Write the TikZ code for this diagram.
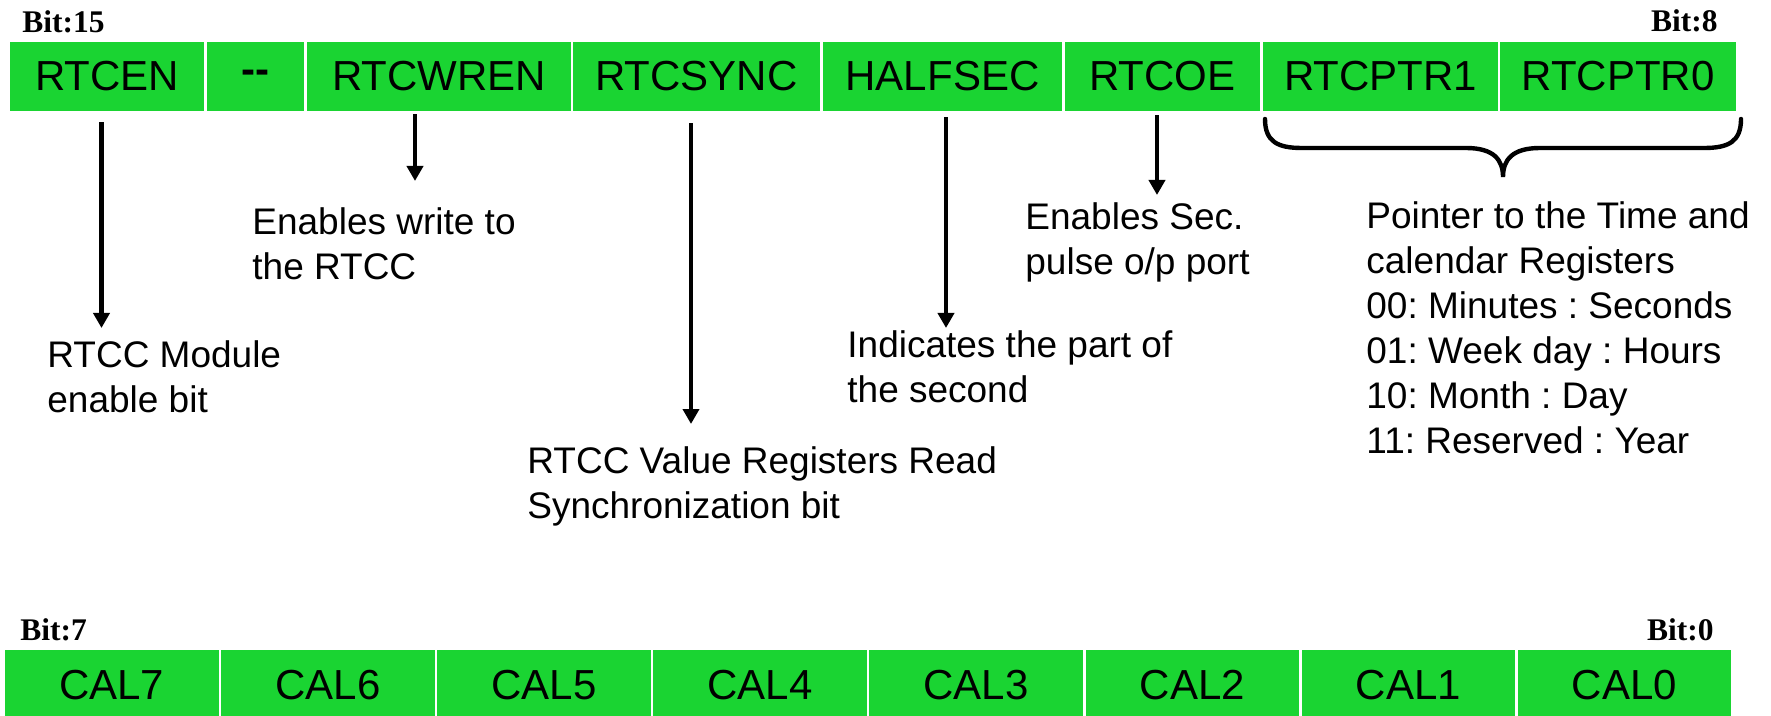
\documentclass[tikz,border=0pt]{standalone}
\usepackage{fontspec}
\setmainfont{Liberation Sans}
\newfontfamily\bitfont{Liberation Serif}
\usetikzlibrary{arrows.meta,calc}
\definecolor{regreen}{RGB}{26,212,50}
\tikzset{
  cell/.style={fill=regreen, inner sep=0pt, minimum height=34.5pt,
    font=\fontsize{21}{25}\selectfont, text=black},
  bitlbl/.style={font=\bitfont\bfseries\fontsize{15.75}{18}\selectfont, inner sep=0pt},
  % multi-line descriptions are placed by the baseline of their last line
  desc/.style={font=\fontsize{18.5}{22.5}\selectfont\frenchspacing, align=left, inner sep=0pt, anchor=base west},
  pointer/.style={-{Triangle[width=8pt,length=7.5pt]}, line width=2.2pt},
  bracepath/.style={line width=2.2pt, line cap=round},
}
\begin{document}
\begin{tikzpicture}[x=0.5pt,y=-0.5pt]
\useasboundingbox (0,0) rectangle (1771,716);
\clip (0,0) rectangle (1771,716);

% ---- upper byte: bits 15..8 ----
\node[bitlbl, anchor=base west] (b15) at (22,33) {Bit:15};
\node[bitlbl, anchor=base east] (b8) at (1718,32) {Bit:8};

\node[cell, minimum width=97pt]    (rtcen)   at (107,76.5)    {RTCEN};
\node[cell, minimum width=48.5pt]  (unused)  at (255.5,76.5)  {\bfseries -{}-};
\node[cell, minimum width=132pt]   (rtcwren) at (439,76.5)    {RTCWREN};
\node[cell, minimum width=123.5pt] (rtcsync) at (696.5,76.5)  {RTCSYNC};
\node[cell, minimum width=119.5pt] (halfsec) at (942.5,76.5)  {HALFSEC};
\node[cell, minimum width=97.5pt]  (rtcoe)   at (1162.5,76.5) {RTCOE};
\node[cell, minimum width=117.5pt] (ptr1)    at (1380.5,76.5) {RTCPTR1};
\node[cell, minimum width=118pt]   (ptr0)    at (1618,76.5)   {RTCPTR0};

% ---- bit descriptions ----
\node[desc] (d1) at (47,413)   {RTCC Module\\enable bit};
\node[desc] (d2) at (252,280)  {Enables write to\\the RTCC};
\node[desc] (d3) at (527,518)  {RTCC Value Registers Read\\Synchronization bit};
\node[desc] (d4) at (847,402)  {Indicates the part of\\the second};
\node[desc] (d5) at (1025,275) {Enables Sec.\\pulse o/p port};
\node[desc] (d6) at (1366,453) {Pointer to the Time and\\calendar Registers\\00: Minutes : Seconds\\01: Week day : Hours\\10: Month : Day\\11: Reserved : Year};

% ---- arrows from the bits to their descriptions ----
\coordinate (t1) at (101.5,328);
\coordinate (t2) at (415,181);
\coordinate (t3) at (691,424);
\coordinate (t4) at (946,328);
\coordinate (t5) at (1157,195);
\draw[pointer] ($(rtcen.south -| t1)+(0,11)$)   -- (t1);
\draw[pointer] ($(rtcwren.south -| t2)+(0,3)$)  -- (t2);
\draw[pointer] ($(rtcsync.south -| t3)+(0,12)$) -- (t3);
\draw[pointer] ($(halfsec.south -| t4)+(0,6)$)  -- (t4);
\draw[pointer] ($(rtcoe.south -| t5)+(0,4)$)    -- (t5);

% ---- brace under RTCPTR1:0 ----
\draw[bracepath] (1265,119) .. controls (1265,142) and (1278,148) .. (1302,148)
  -- (1466,148) .. controls (1494,148) and (1503,160) .. (1503,177)
  .. controls (1503,160) and (1512,148) .. (1540,148)
  -- (1704,148) .. controls (1728,148) and (1741,142) .. (1741,119);

% ---- lower byte: bits 7..0 ----
\node[bitlbl, anchor=base west] (b7) at (20,640) {Bit:7};
\node[bitlbl, anchor=base east] (b0) at (1714,640) {Bit:0};
\foreach \k in {0,...,7} {
  \pgfmathtruncatemacro\n{7-\k}
  \node[cell, minimum width=106.75pt, minimum height=35pt] (cal\n)
    at ({111.75+216.1*\k},685) {CAL\n};
}
\end{tikzpicture}
\end{document}
